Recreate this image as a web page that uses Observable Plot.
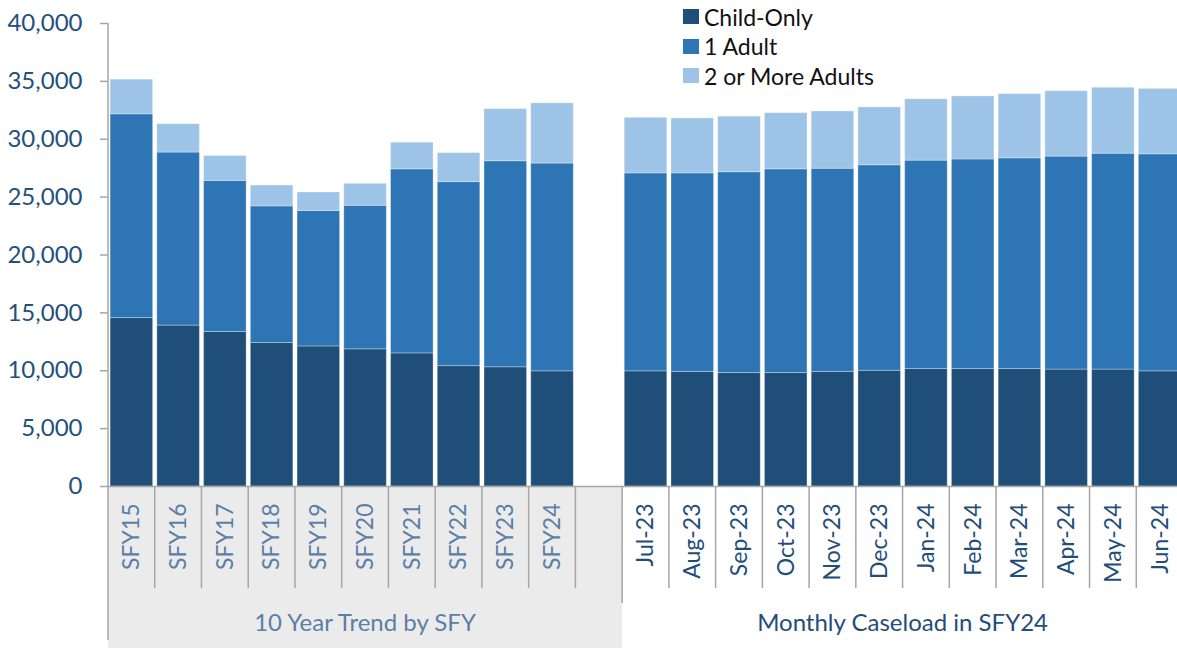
<!DOCTYPE html>
<html>
<head>
<meta charset="utf-8">
<script src="https://cdn.jsdelivr.net/npm/d3@7"></script>
<script src="https://cdn.jsdelivr.net/npm/@observablehq/plot@0.6"></script>
<style>
  html, body { margin: 0; padding: 0; background: #fff; }
  #wrap { position: relative; width: 1177px; height: 648px; overflow: hidden; font-family: Lato, "Open Sans", sans-serif; }
  #legend { position: absolute; left: 683px; top: 2px; }
  .row { display: flex; align-items: center; height: 29.5px; font-size: 23px; color: #111; }
  .sw { width: 16px; height: 15px; margin-right: 5px; }
</style>
</head>
<body>
<div id="wrap"><div id="legend"></div></div>
<script>
const seriesNames = ["Child-Only", "1 Adult", "2 or More Adults"];
const seriesColors = ["#1f4e79", "#2e75b6", "#9dc3e6"];

const fiscalYears = ["SFY15","SFY16","SFY17","SFY18","SFY19","SFY20","SFY21","SFY22","SFY23","SFY24"];
const childFY    = [14550, 13900, 13350, 12400, 12100, 11850, 11500, 10400, 10300, 9950];
const oneAdultFY = [17600, 14950, 13050, 11800, 11700, 12400, 15900, 15900, 17800, 17950];
const twoPlusFY  = [ 3000,  2450,  2150,  1800,  1600,  1900,  2300,  2500,  4500,  5200];

const months = ["Jul-23","Aug-23","Sep-23","Oct-23","Nov-23","Dec-23","Jan-24","Feb-24","Mar-24","Apr-24","May-24","Jun-24"];
const childMonthly    = [ 9950,  9900,  9800,  9800,  9900, 10000, 10150, 10150, 10150, 10100, 10100,  9950];
const oneAdultMonthly = [17100, 17150, 17350, 17600, 17550, 17750, 18000, 18100, 18200, 18400, 18650, 18750];
const twoPlusMonthly  = [ 4800,  4750,  4800,  4850,  4950,  5000,  5300,  5450,  5550,  5650,  5700,  5650];

const groupLabels = ["10 Year Trend by SFY", "Monthly Caseload in SFY24"];
const yTicks = [0, 5000, 10000, 15000, 20000, 25000, 30000, 35000, 40000];

const spacer = " ";
const domain = [...fiscalYears, spacer, ...months];

const rows = [];
fiscalYears.forEach((c, i) => {
  rows.push({cat: c, series: seriesNames[0], value: childFY[i]});
  rows.push({cat: c, series: seriesNames[1], value: oneAdultFY[i]});
  rows.push({cat: c, series: seriesNames[2], value: twoPlusFY[i]});
});
months.forEach((c, i) => {
  rows.push({cat: c, series: seriesNames[0], value: childMonthly[i]});
  rows.push({cat: c, series: seriesNames[1], value: oneAdultMonthly[i]});
  rows.push({cat: c, series: seriesNames[2], value: twoPlusMonthly[i]});
});

const W = 1177, H = 648;
const plot = Plot.plot({
  width: W,
  height: H,
  marginLeft: 108,
  marginRight: -6,
  marginTop: 23,
  marginBottom: 162,
  style: {fontFamily: "Lato, 'Open Sans', sans-serif", background: "transparent"},
  x: {domain, paddingInner: 0.09, paddingOuter: 0.045, round: false, axis: null},
  y: {domain: [0, 40000], axis: null},
  color: {domain: seriesNames, range: seriesColors},
  marks: [
    Plot.barY(rows, Plot.stackY({x: "cat", y: "value", fill: "series", order: seriesNames,
      stroke: "#ffffff", strokeOpacity: 0.3, strokeWidth: 1})),
    Plot.ruleY([0], {stroke: "#a6a6a6", strokeWidth: 1.5}),
    Plot.axisY(yTicks, {anchor: "left", tickSize: 8, tickPadding: 18, tickFormat: d3.format(","),
      fontSize: 24, stroke: "#a6a6a6", strokeWidth: 1.5, fill: "#24507c", label: null}),
    Plot.text(fiscalYears, {x: d => d, frameAnchor: "bottom", dy: 17, rotate: -90, textAnchor: "end",
      lineAnchor: "middle", fontSize: 23, fill: "#5b7fa6"}),
    Plot.text(months, {x: d => d, frameAnchor: "bottom", dy: 17, rotate: -90, textAnchor: "end",
      lineAnchor: "middle", fontSize: 23, fill: "#1f4e79"})
  ]
});

const svg = d3.select(plot);
const xs = plot.scale("x");
const ys = plot.scale("y");
const step = xs.step, bw = xs.bandwidth;
const boundary = v => xs.apply(v) - (step - bw) / 2;
const y0 = ys.apply(0), yTop = ys.apply(40000);
const xStart = boundary(domain[0]);
const xMid = boundary(months[0]);
const xEnd = boundary(months[months.length - 1]) + step;

// gray band behind the SFY group labels
svg.insert("rect", ":first-child")
  .attr("x", xStart).attr("y", y0).attr("width", xMid - xStart).attr("height", H - y0)
  .attr("fill", "#ebebeb");

const g = svg.append("g").attr("stroke", "#a6a6a6").attr("stroke-width", 1.5);
domain.forEach((v, i) => {
  const bx = boundary(v);
  let y2 = y0 + 102;
  if (i === 0) y2 = y0 + 154;
  if (v === months[0]) y2 = y0 + 117;
  g.append("line").attr("x1", bx).attr("x2", bx).attr("y1", y0).attr("y2", y2);
});
// y axis line
g.append("line").attr("x1", xStart).attr("x2", xStart).attr("y1", yTop).attr("y2", y0);

svg.append("text").text(groupLabels[0])
  .attr("x", (xStart + xMid) / 2).attr("y", y0 + 145)
  .attr("text-anchor", "middle").attr("font-size", 24).attr("fill", "#5b7fa6");
svg.append("text").text(groupLabels[1])
  .attr("x", (xMid + xEnd) / 2).attr("y", y0 + 145)
  .attr("text-anchor", "middle").attr("font-size", 24).attr("fill", "#1f4e79");

const wrap = document.getElementById("wrap");
wrap.insertBefore(plot, wrap.firstChild);

const legend = d3.select("#legend");
seriesNames.forEach((s, i) => {
  const r = legend.append("div").attr("class", "row");
  r.append("div").attr("class", "sw").style("background", seriesColors[i]);
  r.append("span").text(s);
});
</script>
</body>
</html>
